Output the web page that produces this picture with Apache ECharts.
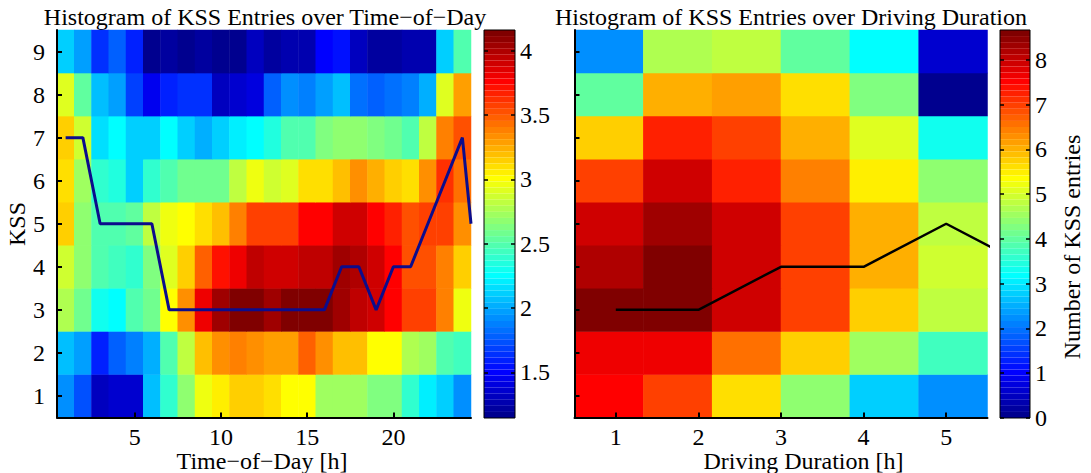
<!DOCTYPE html>
<html>
<head>
<meta charset="utf-8">
<title>KSS histograms</title>
<script src="https://cdn.jsdelivr.net/npm/echarts@6.0.0/dist/echarts.min.js"></script>
<style>
  html, body { margin: 0; padding: 0; background: #fff; }
  #chart { width: 1091px; height: 473px; }
</style>
</head>
<body>
<div id="chart"></div>
<script>
// ---- data -------------------------------------------------------------
const hours = [1, 2, 3, 4, 5, 6, 7, 8, 9, 10, 11, 12, 13, 14, 15, 16, 17, 18, 19, 20, 21, 22, 23, 24];
const kssLevels = [1, 2, 3, 4, 5, 6, 7, 8, 9];

// entries per (KSS, hour of day); one row per KSS level, 1 .. 9
const todEntries = [
  [1.90, 1.75, 1.31, 1.38, 1.38, 2.06, 2.40, 2.67, 2.94, 3.05, 3.17, 3.17, 3.09, 3.01, 3.01, 2.70, 2.70, 2.70, 2.63, 2.63, 2.40, 2.21, 2.09, 1.90],
  [2.06, 1.98, 1.60, 1.79, 1.86, 2.02, 2.47, 2.82, 3.20, 3.35, 3.39, 3.35, 3.28, 3.28, 3.47, 3.32, 3.20, 3.20, 3.01, 3.01, 2.78, 2.70, 2.51, 2.43],
  [2.78, 2.59, 2.32, 2.25, 2.51, 2.59, 3.01, 3.35, 3.83, 4.06, 4.16, 4.16, 4.06, 4.12, 4.16, 4.12, 4.02, 3.97, 3.88, 3.76, 3.55, 3.55, 3.37, 2.94],
  [2.86, 2.67, 2.47, 2.43, 2.40, 2.63, 2.90, 3.13, 3.47, 3.72, 3.83, 3.97, 3.88, 3.88, 3.93, 3.97, 4.02, 4.00, 3.90, 3.78, 3.51, 3.51, 3.39, 3.13],
  [3.13, 2.67, 2.47, 2.51, 2.55, 2.82, 2.94, 3.01, 3.09, 3.20, 3.39, 3.55, 3.55, 3.59, 3.74, 3.78, 3.88, 3.88, 3.78, 3.66, 3.51, 3.59, 3.55, 3.35],
  [3.09, 2.70, 2.40, 2.36, 2.09, 2.40, 2.51, 2.59, 2.59, 2.59, 2.82, 2.94, 2.86, 2.90, 3.09, 3.09, 3.20, 3.32, 3.24, 3.17, 3.09, 3.35, 3.62, 3.42],
  [3.17, 2.86, 2.17, 2.25, 2.09, 2.09, 2.25, 2.09, 2.02, 2.13, 2.21, 2.25, 2.36, 2.47, 2.51, 2.63, 2.67, 2.67, 2.63, 2.59, 2.51, 2.82, 3.39, 3.51],
  [2.90, 2.55, 2.06, 1.98, 1.71, 1.45, 1.60, 1.63, 1.63, 1.31, 1.38, 1.42, 1.79, 1.94, 1.86, 1.98, 2.06, 1.83, 1.79, 1.83, 1.86, 2.02, 2.90, 3.28],
  [2.09, 1.98, 1.63, 1.79, 1.60, 1.15, 1.21, 1.18, 1.21, 1.15, 1.15, 1.31, 1.21, 1.24, 1.24, 1.48, 1.56, 1.31, 1.21, 1.21, 1.28, 1.24, 2.09, 2.47]
];

// most frequent KSS per hour, closing at the end of the day axis
const todModeHours = [1, 2, 3, 4, 5, 6, 7, 8, 9, 10, 11, 12, 13, 14, 15, 16, 17, 18, 19, 20, 21, 22, 23, 24, 24.5];
const todModeKss   = [7, 7, 5, 5, 5, 5, 3, 3, 3, 3, 3, 3, 3, 3, 3, 3, 4, 4, 3, 4, 4, 5, 6, 7, 5];

// driving-duration bins (bin centres in hours)
const durationBins = ['0.92', '1.75', '2.58', '3.42', '4.25', '5.08'];

// number of KSS entries per (KSS, duration bin); one row per KSS level
const durEntries = [
  [7.46, 7.02, 5.65, 4.38, 2.72, 2.18],
  [7.72, 7.72, 6.58, 5.70, 4.60, 3.72],
  [8.67, 8.67, 7.86, 6.91, 5.81, 4.81],
  [8.26, 8.67, 7.86, 7.02, 6.09, 4.92],
  [7.86, 8.38, 7.86, 6.91, 6.09, 4.81],
  [6.91, 7.86, 7.24, 6.47, 5.52, 4.38],
  [5.81, 7.24, 6.91, 6.09, 5.11, 3.38],
  [4.05, 6.03, 6.18, 5.59, 4.27, 0.00],
  [2.28, 4.71, 4.81, 3.94, 3.16, 0.55]
];

const durModeHours = [1, 2, 3, 4, 5, 6];
const durModeKss   = [3, 3, 4, 4, 5, 4];

// axis ticks
const todTicks = [5, 10, 15, 20];
const durTicks = [1, 2, 3, 4, 5];
const kssTicks = [1, 2, 3, 4, 5, 6, 7, 8, 9];
const todScaleTicks = [1.5, 2, 2.5, 3, 3.5, 4];
const durScaleTicks = [0, 1, 2, 3, 4, 5, 6, 7, 8];
const todRange = [1.145, 4.16];
const durRange = [0, 8.67];

// ---- helpers ----------------------------------------------------------
// 64-entry jet colour map
function jet(m) {
  const n = m / 4;
  const u = p => (p >= 1 && p <= n) ? p / n : (p > n && p < 2 * n) ? 1 : (p >= 2 * n && p <= 3 * n - 1) ? (3 * n - p) / n : 0;
  const hex = v => Math.round(v * 255).toString(16).padStart(2, '0');
  const out = [];
  for (let i = 1; i <= m; i++) {
    out.push('#' + hex(u(i - 24)) + hex(u(i - 8)) + hex(u(i + 8)));
  }
  return out;
}
const jetColors = jet(64);

function pieces(range) {
  const step = (range[1] - range[0]) / jetColors.length;
  return jetColors.map((c, k) => {
    const p = { gte: range[0] + k * step, color: c };
    if (k === jetColors.length - 1) p.lte = range[1]; else p.lt = range[0] + (k + 1) * step;
    return p;
  });
}

function cells(rows) {
  const out = [];
  rows.forEach((row, y) => row.forEach((v, x) => out.push([x, y, v])));
  return out;
}
const pairs = (xs, ys) => xs.map((x, i) => [x, ys[i]]);

// ---- chart ------------------------------------------------------------
const FONT = 'Liberation Serif';
const txt = { color: '#000', fontFamily: FONT, fontSize: 24 };
const black2 = { color: '#000', width: 2 };

function valueAxisX(grid, min, max, ticks) {
  return {
    gridIndex: grid, type: 'value', position: 'bottom', min, max, z: 5,
    axisLine: { show: true, onZero: false, lineStyle: black2 },
    axisTick: { show: true, inside: true, length: 5, lineStyle: black2, customValues: ticks },
    axisLabel: Object.assign({ show: true, margin: 9, lineHeight: 20, customValues: ticks }, txt),
    splitLine: { show: false }
  };
}
function valueAxisY(grid, showLabels) {
  return {
    gridIndex: grid, type: 'value', position: 'left', min: 0.5, max: 9.5, z: 5,
    axisLine: { show: true, onZero: false, lineStyle: black2 },
    axisTick: { show: true, inside: true, length: 5, lineStyle: black2, customValues: kssTicks },
    axisLabel: Object.assign({ show: showLabels, margin: 12, customValues: kssTicks }, txt),
    splitLine: { show: false }
  };
}
function scaleAxis(grid, range, ticks, side) {
  return {
    gridIndex: grid, type: 'value', position: side, min: range[0], max: range[1], z: 6,
    axisLine: { show: false },
    axisTick: { show: true, inside: true, length: 4, lineStyle: { color: '#000', width: 1.5 }, customValues: ticks },
    axisLabel: Object.assign({ show: side === 'right', margin: 5, customValues: ticks }, txt),
    splitLine: { show: false }
  };
}
function scaleMap(series, range, left, width) {
  return {
    type: 'piecewise', seriesIndex: series, pieces: pieces(range),
    orient: 'vertical', left, top: 30, padding: 0,
    itemWidth: width, itemHeight: 388 / 64, itemGap: 0, itemSymbol: 'rect',
    showLabel: false, selectedMode: false, hoverLink: false, z: 4
  };
}
function label(text, x, y, rotation) {
  return {
    type: 'text', x, y, rotation: rotation || 0, silent: true,
    style: { text, fill: '#000', fontFamily: FONT, fontSize: 24, lineHeight: 20, align: 'center', verticalAlign: 'middle' }
  };
}

const chart = echarts.init(document.getElementById('chart'), null, { renderer: 'svg' });
chart.setOption({
  animation: false,
  backgroundColor: '#fff',
  grid: [
    { left: 57, top: 30, width: 414, height: 387.5 },
    { left: 574.5, top: 30, width: 413, height: 387.5 },
    { left: 484, top: 30, width: 31, height: 388, show: true, borderColor: '#000', borderWidth: 1, backgroundColor: 'transparent', z: 5 },
    { left: 1000, top: 30, width: 30, height: 388, show: true, borderColor: '#000', borderWidth: 1, backgroundColor: 'transparent', z: 5 }
  ],
  xAxis: [
    { gridIndex: 0, type: 'category', data: hours, show: false, position: 'top' },
    valueAxisX(0, 0.5, 24.5, todTicks),
    { gridIndex: 1, type: 'category', data: durationBins, show: false, position: 'top' },
    valueAxisX(1, 0.5, 5.5, durTicks),
    { gridIndex: 2, type: 'value', min: 0, max: 1, show: false },
    { gridIndex: 3, type: 'value', min: 0, max: 1, show: false }
  ],
  yAxis: [
    { gridIndex: 0, type: 'category', data: kssLevels, show: false, position: 'right' },
    valueAxisY(0, true),
    { gridIndex: 1, type: 'category', data: kssLevels, show: false, position: 'right' },
    valueAxisY(1, false),
    scaleAxis(2, todRange, todScaleTicks, 'left'),
    scaleAxis(2, todRange, todScaleTicks, 'right'),
    scaleAxis(3, durRange, durScaleTicks, 'left'),
    scaleAxis(3, durRange, durScaleTicks, 'right')
  ],
  visualMap: [
    scaleMap(0, todRange, 484, 31),
    scaleMap(2, durRange, 1000, 30)
  ],
  series: [
    { type: 'heatmap', xAxisIndex: 0, yAxisIndex: 0, data: cells(todEntries), silent: true },
    { type: 'line', xAxisIndex: 1, yAxisIndex: 1, data: pairs(todModeHours, todModeKss),
      showSymbol: false, clip: true, silent: true, lineStyle: { color: '#0c0c8c', width: 3 }, z: 3 },
    { type: 'heatmap', xAxisIndex: 2, yAxisIndex: 2, data: cells(durEntries), silent: true },
    { type: 'line', xAxisIndex: 3, yAxisIndex: 3, data: pairs(durModeHours, durModeKss),
      showSymbol: false, clip: true, silent: true, lineStyle: { color: '#000', width: 2.5 }, z: 3 }
  ],
  graphic: [
    label('Histogram of KSS Entries over Time\u2212of\u2212Day', 265, 17),
    label('Histogram of KSS Entries over Driving Duration', 791, 17),
    label('KSS', 16.5, 224, Math.PI / 2),
    label('Time\u2212of\u2212Day [h]', 262, 461),
    label('Driving Duration [h]', 803.5, 461),
    label('Number of KSS entries', 1072, 247, Math.PI / 2)
  ]
});
</script>
</body>
</html>
